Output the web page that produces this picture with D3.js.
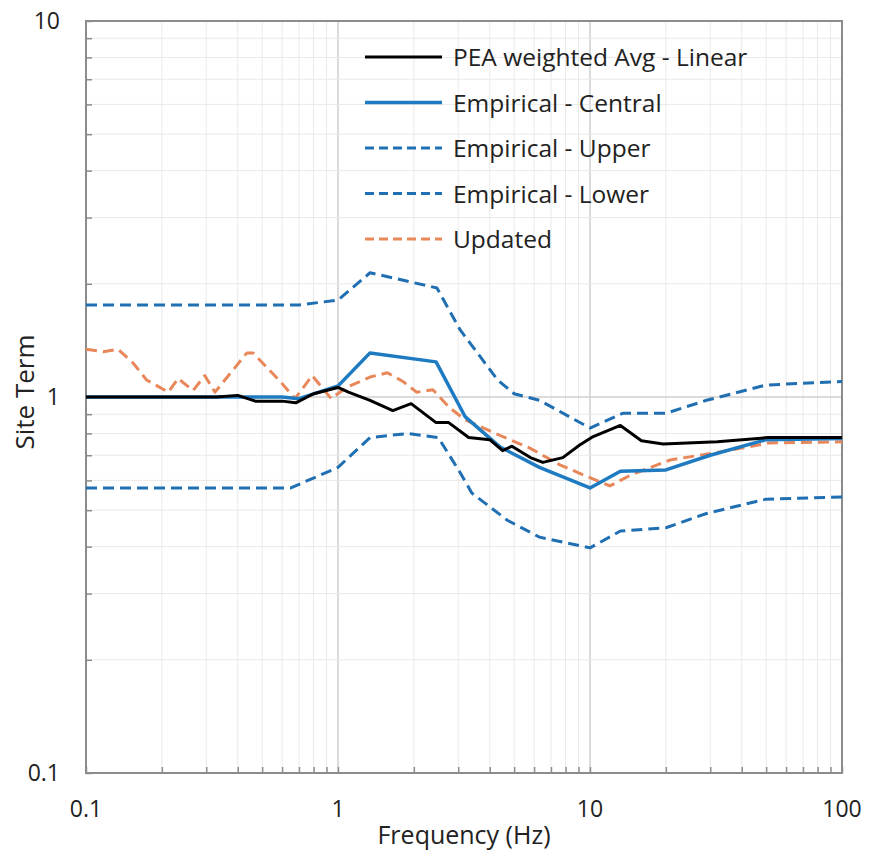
<!DOCTYPE html>
<html>
<head>
<meta charset="utf-8">
<script src="https://cdn.jsdelivr.net/npm/d3@7"></script>
<style>
  body { margin: 0; background: #fff; }
  text { font-family: "Open Sans", "Noto Sans", sans-serif; fill: #222; }
</style>
</head>
<body>
<div id="chart"></div>
<script>
// series values: [frequency Hz, site term]
var pea_linear = [[0.1,1.0],[0.33,1.0],[0.4,1.01],[0.47,0.975],[0.6,0.975],[0.68,0.965],[0.8,1.02],[1.0,1.06],[1.1,1.03],[1.34,0.98],[1.65,0.92],[1.95,0.96],[2.45,0.855],[2.75,0.855],[3.3,0.78],[4.0,0.77],[4.5,0.72],[4.9,0.74],[5.8,0.69],[6.5,0.67],[7.8,0.69],[9.1,0.745],[10.3,0.785],[13.2,0.84],[16,0.765],[19.5,0.75],[32,0.76],[51,0.78],[100,0.78]];
var emp_central = [[0.1,1.0],[0.6,1.0],[0.7,0.99],[1.0,1.07],[1.34,1.31],[2.45,1.24],[3.2,0.885],[4.4,0.736],[6.3,0.65],[10,0.573],[13.2,0.635],[20,0.64],[30,0.70],[50,0.77],[100,0.775]];
var emp_upper = [[0.1,1.757],[0.7,1.757],[1.0,1.81],[1.34,2.14],[2.47,1.95],[3.05,1.51],[4.3,1.11],[5.0,1.02],[6.3,0.98],[10,0.827],[13.5,0.905],[20,0.905],[29,0.98],[50,1.076],[100,1.10]];
var emp_lower = [[0.1,0.573],[0.65,0.573],[1.0,0.65],[1.34,0.78],[1.9,0.80],[2.5,0.78],[3.05,0.63],[3.4,0.555],[4.7,0.47],[6.3,0.424],[10,0.397],[13.2,0.44],[20,0.449],[29,0.49],[50,0.535],[100,0.542]];
var updated = [[0.1,1.34],[0.117,1.32],[0.134,1.34],[0.154,1.23],[0.174,1.11],[0.212,1.03],[0.232,1.12],[0.266,1.04],[0.296,1.14],[0.325,1.03],[0.435,1.31],[0.46,1.31],[0.59,1.10],[0.675,0.99],[0.79,1.14],[0.94,0.99],[1.08,1.06],[1.34,1.13],[1.57,1.16],[1.81,1.10],[2.05,1.03],[2.38,1.045],[2.78,0.935],[3.2,0.87],[4.4,0.79],[5.8,0.73],[7.6,0.66],[10,0.61],[12,0.58],[14.5,0.62],[20.8,0.68],[32.7,0.714],[51.6,0.755],[100,0.76]];

var series_names = ["PEA weighted Avg - Linear", "Empirical - Central", "Empirical - Upper", "Empirical - Lower", "Updated"];
var series_data = [pea_linear, emp_central, emp_upper, emp_lower, updated];
var x_ticks = [0.1, 1, 10, 100];
var y_ticks = [0.1, 1, 10];

var styles = [
  {color: "#000000", width: 3, dash: null},
  {color: "#1f7bc1", width: 3.5, dash: null},
  {color: "#1f6fb2", width: 3, dash: "11,6"},
  {color: "#1f6fb2", width: 3, dash: "11,6"},
  {color: "#e8875a", width: 3, dash: "11,6"}
];

var width = 869, height = 853;
var margin = {left: 86, right: 27, top: 21, bottom: 80};

var svg = d3.select("#chart").append("svg")
    .attr("width", width)
    .attr("height", height);

var x = d3.scaleLog().domain([0.1, 100]).range([margin.left, width - margin.right]);
var y = d3.scaleLog().domain([0.1, 10]).range([height - margin.bottom, margin.top]);

// minor and major grid values
function logSteps(lo, hi) {
  var out = [];
  for (var p = lo; p < hi; p *= 10) {
    for (var k = 1; k < 10; k++) out.push(p * k);
  }
  out.push(hi);
  return out;
}
var x_grid = logSteps(0.1, 100);
var y_grid = logSteps(0.1, 10);
function isMajor(v) { return Math.abs(Math.log10(v) - Math.round(Math.log10(v))) < 1e-6; }

var grid = svg.append("g");
grid.selectAll(".gx").data(x_grid).enter().append("line")
    .attr("x1", function(d) { return x(d); })
    .attr("x2", function(d) { return x(d); })
    .attr("y1", y.range()[0]).attr("y2", y.range()[1])
    .attr("stroke", function(d) { return isMajor(d) ? "#cfcfcf" : "#e9e9e9"; })
    .attr("stroke-width", function(d) { return isMajor(d) ? 1.5 : 1; });
grid.selectAll(".gy").data(y_grid).enter().append("line")
    .attr("y1", function(d) { return y(d); })
    .attr("y2", function(d) { return y(d); })
    .attr("x1", x.range()[0]).attr("x2", x.range()[1])
    .attr("stroke", function(d) { return isMajor(d) ? "#cfcfcf" : "#e9e9e9"; })
    .attr("stroke-width", function(d) { return isMajor(d) ? 1.5 : 1; });

// axes with inward ticks
var xAxis = d3.axisBottom(x).tickValues(x_grid).tickSize(-6).tickFormat("");
var yAxis = d3.axisLeft(y).tickValues(y_grid).tickSize(-6).tickFormat("");

svg.append("g")
    .attr("transform", "translate(0," + y.range()[0] + ")")
    .call(xAxis)
    .call(function(g) {
      g.select(".domain").remove();
      g.selectAll(".tick line").attr("stroke", "#8c8c8c").attr("stroke-width", 1.5);
    });
svg.append("g")
    .attr("transform", "translate(" + x.range()[0] + ",0)")
    .call(yAxis)
    .call(function(g) {
      g.select(".domain").remove();
      g.selectAll(".tick line").attr("stroke", "#8c8c8c").attr("stroke-width", 1.5);
    });

// frame
svg.append("rect")
    .attr("x", x.range()[0]).attr("y", y.range()[1])
    .attr("width", x.range()[1] - x.range()[0])
    .attr("height", y.range()[0] - y.range()[1])
    .attr("fill", "none")
    .attr("stroke", "#8c8c8c")
    .attr("stroke-width", 2);

// tick labels
svg.selectAll(".xl").data(x_ticks).enter().append("text")
    .attr("x", function(d) { return x(d); })
    .attr("y", y.range()[0] + 44)
    .attr("text-anchor", "middle")
    .attr("font-size", "23px")
    .text(function(d) { return d3.format("~g")(d); });
svg.selectAll(".yl").data(y_ticks).enter().append("text")
    .attr("x", x.range()[0] - 26)
    .attr("y", function(d) { return y(d) + 8; })
    .attr("text-anchor", "end")
    .attr("font-size", "23px")
    .text(function(d) { return d3.format("~g")(d); });

// axis titles
svg.append("text")
    .attr("x", (x.range()[0] + x.range()[1]) / 2)
    .attr("y", 844)
    .attr("text-anchor", "middle")
    .attr("font-size", "25px")
    .text("Frequency (Hz)");
svg.append("text")
    .attr("transform", "translate(34," + 392 + ") rotate(-90)")
    .attr("text-anchor", "middle")
    .attr("font-size", "26px")
    .text("Site Term");

// lines
var line = d3.line()
    .x(function(d) { return x(d[0]); })
    .y(function(d) { return y(d[1]); });

var order = [3, 2, 4, 1, 0];
order.forEach(function(i) {
  svg.append("path")
      .datum(series_data[i])
      .attr("d", line)
      .attr("fill", "none")
      .attr("stroke", styles[i].color)
      .attr("stroke-width", styles[i].width)
      .attr("stroke-dasharray", styles[i].dash)
      .attr("stroke-linejoin", "round");
});

// legend
var legend = svg.append("g").attr("transform", "translate(365,57)");
series_names.forEach(function(name, i) {
  var row = legend.append("g").attr("transform", "translate(0," + (i * 45.5) + ")");
  row.append("line")
      .attr("x1", 0).attr("x2", 77)
      .attr("y1", 0).attr("y2", 0)
      .attr("stroke", styles[i].color)
      .attr("stroke-width", styles[i].width)
      .attr("stroke-dasharray", styles[i].dash ? "9,5" : null);
  row.append("text")
      .attr("x", 88)
      .attr("y", 9)
      .attr("font-size", "24.5px")
      .text(name);
});
</script>
</body>
</html>
